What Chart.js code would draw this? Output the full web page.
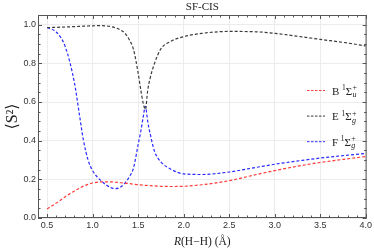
<!DOCTYPE html>
<html>
<head>
<meta charset="utf-8">
<script src="https://cdn.jsdelivr.net/npm/chart.js@4/dist/chart.umd.min.js"></script>
<style>
  body { margin: 0; background: #fff; }
  #wrap { width: 374px; height: 248px; }
</style>
</head>
<body>
<div id="wrap"><canvas id="sfcis" width="374" height="248"></canvas></div>
<script>
// bond length R(H-H) in Angstrom
const rValues = [0.5, 0.6, 0.7, 0.8, 0.85, 0.9, 0.95, 1.0, 1.1, 1.2, 1.25, 1.3, 1.35, 1.4, 1.45, 1.5,
  1.53, 1.555, 1.58, 1.605, 1.63, 1.68, 1.75, 1.85, 2.0, 2.2, 2.5, 2.8, 3.0, 3.3, 3.5, 3.8, 4.0];

// <S^2> for each state
const stateB = [0.047, 0.077, 0.11, 0.14, 0.153, 0.165, 0.174, 0.181, 0.187, 0.187, 0.185, 0.183, 0.181, 0.178, 0.175, 0.172,
  0.171, 0.170, 0.169, 0.168, 0.167, 0.166, 0.164, 0.163, 0.164, 0.172, 0.193, 0.225, 0.245, 0.272, 0.287, 0.306, 0.318];
const stateE = [0.985, 0.986, 0.988, 0.99, 0.991, 0.992, 0.993, 0.994, 0.995, 0.99, 0.984, 0.974, 0.958, 0.925, 0.87, 0.75,
  0.66, 0.595, 0.562, 0.66, 0.72, 0.80, 0.875, 0.912, 0.938, 0.955, 0.965, 0.963, 0.955, 0.937, 0.924, 0.905, 0.89];
const stateF = [0.985, 0.962, 0.885, 0.70, 0.55, 0.40, 0.30, 0.245, 0.19, 0.157, 0.152, 0.158, 0.178, 0.21, 0.26, 0.38,
  0.45, 0.52, 0.578, 0.50, 0.44, 0.345, 0.29, 0.255, 0.228, 0.225, 0.238, 0.262, 0.278, 0.298, 0.31, 0.325, 0.334];

const stateLetters = ['B', 'E', 'F'];
const stateSymmetry = ['u', 'g', 'g'];
const stateColors = ['#ff3b3b', '#3a3a3a', '#2a2aff'];

const xTicks = [0.5, 1.0, 1.5, 2.0, 2.5, 3.0, 3.5, 4.0];
const yTicks = [0.0, 0.2, 0.4, 0.6, 0.8, 1.0];

const chartTitle = 'SF-CIS';

const serif = '"Liberation Serif", "DejaVu Serif", serif';

function series(vals) {
  return rValues.map((r, i) => ({ x: r, y: vals[i] }));
}

const seriesVals = [stateB, stateE, stateF];

// frame with inward ticks, like the original plot
const framePlugin = {
  id: 'frame',
  afterDatasetsDraw(chart) {
    const { ctx, chartArea: a, scales } = chart;
    const xs = scales.x, ys = scales.y;
    ctx.save();
    ctx.strokeStyle = '#555';
    ctx.lineWidth = 1;
    ctx.strokeRect(a.left + 0.5, a.top + 0.5, a.right - a.left - 1, a.bottom - a.top - 1);
    ctx.beginPath();
    for (let i = 4; i <= 40; i++) {
      const v = i / 10;
      const px = Math.round(xs.getPixelForValue(v)) + 0.5;
      const len = (i % 5 === 0) ? 4 : 2.5;
      ctx.moveTo(px, a.bottom); ctx.lineTo(px, a.bottom - len);
      ctx.moveTo(px, a.top); ctx.lineTo(px, a.top + len);
    }
    for (let j = 0; j <= 21; j++) {
      const v = j * 0.05;
      const py = Math.round(ys.getPixelForValue(v)) + 0.5;
      const len = (j % 4 === 0) ? 4 : 2.5;
      ctx.moveTo(a.left, py); ctx.lineTo(a.left + len, py);
      ctx.moveTo(a.right, py); ctx.lineTo(a.right - len, py);
    }
    ctx.stroke();
    ctx.restore();
  },
  afterDraw(chart) {
    const { ctx, chartArea: a } = chart;
    const cx = (a.left + a.right) / 2;
    ctx.save();
    ctx.fillStyle = '#222';
    // title
    ctx.font = '11px ' + serif;
    ctx.textAlign = 'center';
    ctx.textBaseline = 'middle';
    ctx.fillText(chartTitle, cx, 7.5);

    // x axis title: R(H-H) (Å) with italic R
    const parts = [['italic 11.5px ', 'R'], ['11.5px ', '(H\u2212H) (\u00c5)']];
    let w = 0;
    parts.forEach(p => { ctx.font = p[0] + serif; w += ctx.measureText(p[1]).width; });
    let x = cx - w / 2;
    ctx.textAlign = 'left';
    ctx.textBaseline = 'alphabetic';
    parts.forEach(p => {
      ctx.font = p[0] + serif;
      ctx.fillText(p[1], x, 244.5);
      x += ctx.measureText(p[1]).width;
    });

    // y axis title
    ctx.translate(13, (a.top + a.bottom) / 2);
    ctx.rotate(-Math.PI / 2);
    ctx.textAlign = 'center';
    ctx.textBaseline = 'middle';
    ctx.font = '16px ' + serif;
    ctx.fillText('\u27e8S\u00b2\u27e9', 0, 0);
    ctx.restore();

    // legend
    ctx.save();
    chart.data.datasets.forEach((ds, i) => {
      const y = 90.5 + i * 25.6;
      ctx.strokeStyle = ds.borderColor;
      ctx.lineWidth = 1;
      ctx.setLineDash([2.5, 1.5]);
      ctx.beginPath();
      ctx.moveTo(307, y); ctx.lineTo(325, y);
      ctx.stroke();
      ctx.setLineDash([]);
      ctx.fillStyle = '#222';
      ctx.textAlign = 'left';
      ctx.textBaseline = 'alphabetic';
      let tx = 332;
      const base = y + 4;
      ctx.font = '11px ' + serif;
      ctx.fillText(stateLetters[i] + ' ', tx, base);
      tx += ctx.measureText(stateLetters[i] + ' ').width;
      ctx.font = '7.5px ' + serif;
      ctx.fillText('1', tx, base - 4.5);
      tx += ctx.measureText('1').width;
      ctx.font = '11px ' + serif;
      ctx.fillText('\u03a3', tx, base);
      tx += ctx.measureText('\u03a3').width + 0.3;
      ctx.font = '8px ' + serif;
      ctx.fillText('+', tx, base - 4.5);
      ctx.font = 'italic 8px ' + serif;
      ctx.fillText(stateSymmetry[i], tx, base + 2.5);
    });
    ctx.restore();
  }
};

const ctx = document.getElementById('sfcis').getContext('2d');
new Chart(ctx, {
  type: 'line',
  data: {
    datasets: seriesVals.map((vals, i) => ({
      label: stateLetters[i],
      data: series(vals),
      borderColor: stateColors[i],
      borderWidth: 1.2,
      borderDash: [3, 2],
      pointRadius: 0,
      fill: false,
      cubicInterpolationMode: 'monotone'
    }))
  },
  options: {
    responsive: false,
    animation: false,
    layout: { padding: { left: 0, top: 15, right: 6, bottom: 0 } },
    plugins: {
      legend: { display: false },
      title: { display: false },
      tooltip: { enabled: false }
    },
    scales: {
      x: {
        type: 'linear',
        min: 0.4,
        max: 4.01,
        afterBuildTicks: s => { s.ticks = xTicks.map(v => ({ value: v })); },
        afterFit: s => { s.height = 30; },
        grid: { color: '#ececec', drawTicks: false },
        border: { display: false },
        ticks: {
          padding: 2,
          color: '#333',
          font: { family: '"Liberation Sans", Arial, sans-serif', size: 9 },
          callback: v => v.toFixed(1),
          maxRotation: 0
        }
      },
      y: {
        type: 'linear',
        min: 0,
        max: 1.05,
        afterBuildTicks: s => { s.ticks = yTicks.map(v => ({ value: v })); },
        afterFit: s => { s.width = 38; },
        grid: { color: '#ececec', drawTicks: false },
        border: { display: false },
        ticks: {
          padding: 2,
          color: '#333',
          font: { family: '"Liberation Sans", Arial, sans-serif', size: 9 },
          callback: v => v.toFixed(1)
        }
      }
    }
  },
  plugins: [framePlugin]
});
</script>
</body>
</html>
